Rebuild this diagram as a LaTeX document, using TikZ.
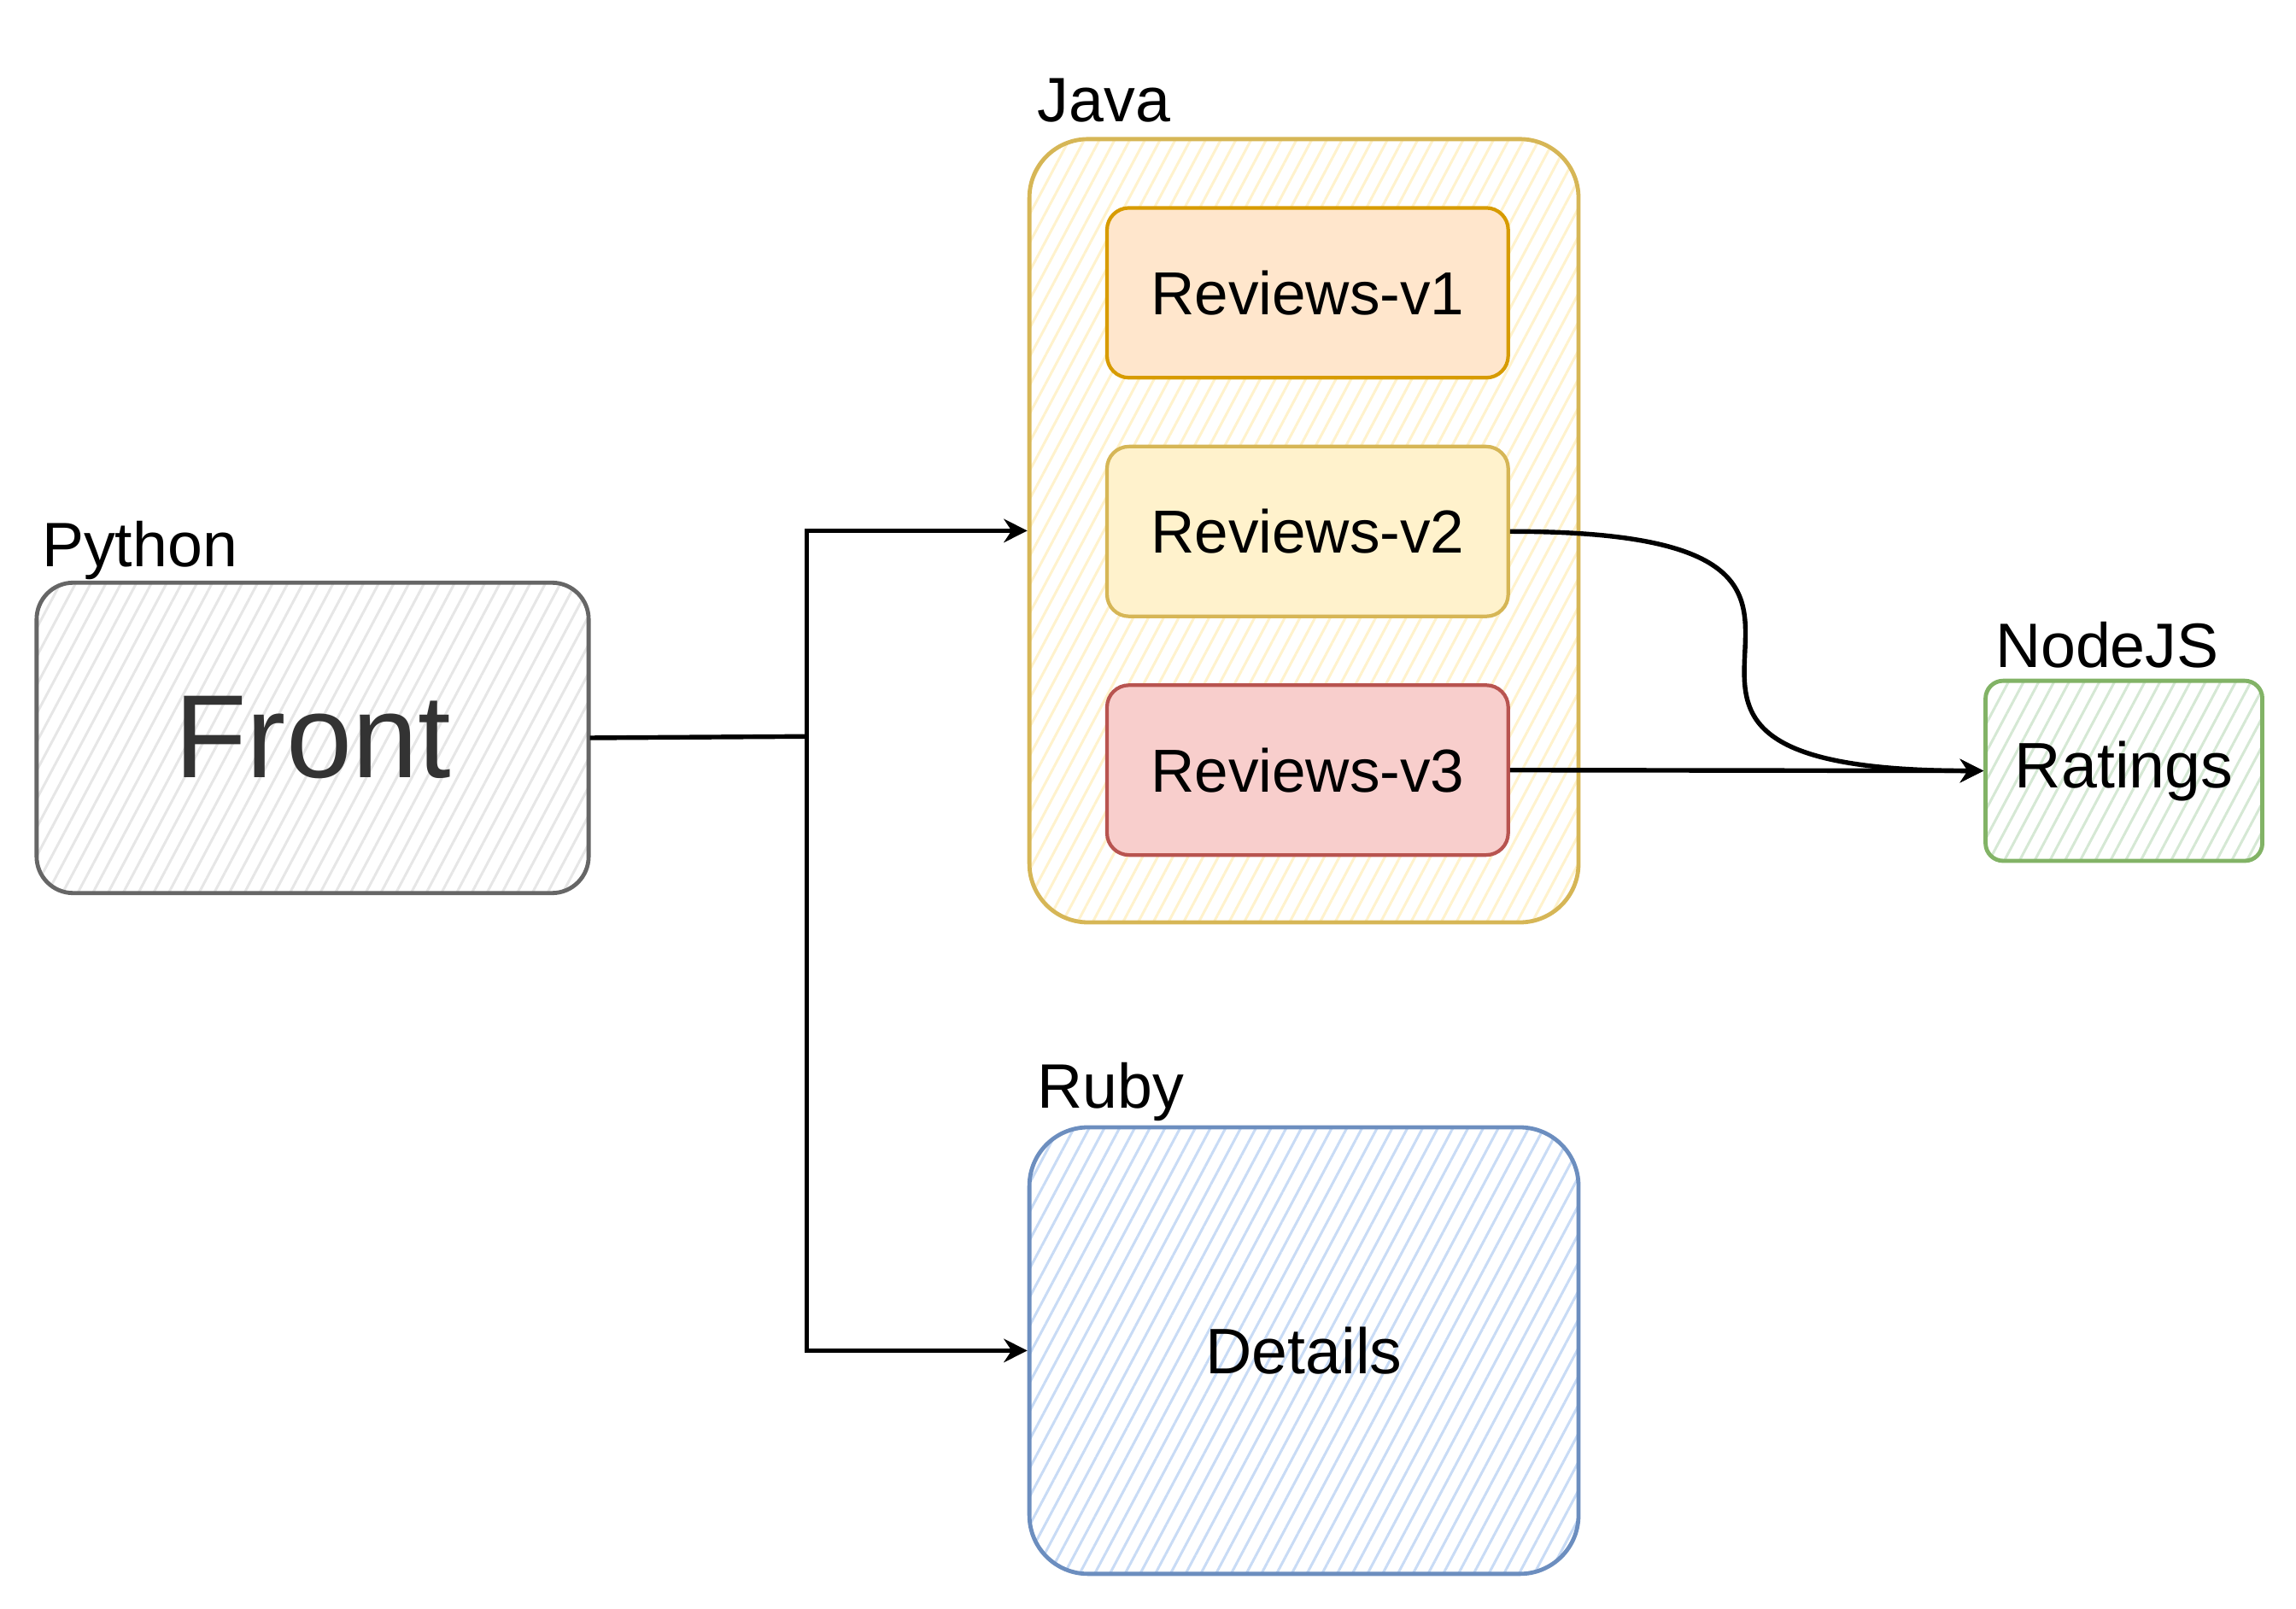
\documentclass[tikz,border=0pt]{standalone}
\usepackage{fontspec}
\setmainfont{Liberation Sans}
\usetikzlibrary{arrows.meta,patterns.meta}

\definecolor{pydraw}{HTML}{666666}
\definecolor{pyhatch}{HTML}{E6E6E6}
\definecolor{pytext}{HTML}{333333}
\definecolor{javadraw}{HTML}{D6B656}
\definecolor{javahatch}{HTML}{FFF2CC}
\definecolor{vonefill}{HTML}{FFE6CC}
\definecolor{vonedraw}{HTML}{D79B00}
\definecolor{vtwofill}{HTML}{FFF2CC}
\definecolor{vtwodraw}{HTML}{D6B656}
\definecolor{vthreefill}{HTML}{F8CECC}
\definecolor{vthreedraw}{HTML}{B85450}
\definecolor{nodedraw}{HTML}{82B366}
\definecolor{nodehatch}{HTML}{D5E8D4}
\definecolor{rubydraw}{HTML}{6C8EBF}
\definecolor{rubyhatch}{HTML}{C8DBF5}

\tikzset{
  hatchbox/.style={draw, line width=0.8pt, inner sep=0pt,
    pattern={Lines[angle=62,distance=2.6pt,line width=0.5pt]},
    font=\fontsize{12.5}{15}\selectfont},
  svcbox/.style={draw, line width=0.7pt, rounded corners=1.5mm,
    minimum width=27.4mm, minimum height=11.6mm, inner sep=0pt,
    font=\fontsize{11.8}{14}\selectfont},
  lbl/.style={inner sep=0pt, anchor=base west, font=\fontsize{12.2}{15}\selectfont},
  conn/.style={line width=0.9pt},
  arr/.style={conn, -{Stealth[length=1.6mm,width=1.6mm]}}
}

\begin{document}
\begin{tikzpicture}[x=0.1mm, y=-0.1mm]
  \useasboundingbox (0,0) rectangle (1568,1099);

  % groups
  \node[hatchbox, draw=pydraw, pattern color=pyhatch, text=pytext,
    minimum width=37.7mm, minimum height=21.2mm, rounded corners=2.5mm,
    font=\fontsize{23}{28}\selectfont] (front) at (213.5,504) {Front};
  \node[hatchbox, draw=javadraw, pattern color=javahatch,
    minimum width=37.5mm, minimum height=53.5mm, rounded corners=4mm] (java) at (890.5,362.5) {};
  \node[hatchbox, draw=nodedraw, pattern color=nodehatch,
    minimum width=18.9mm, minimum height=12.3mm, rounded corners=1.2mm] (ratings) at (1450.5,526.5) {Ratings};
  \node[hatchbox, draw=rubydraw, pattern color=rubyhatch,
    minimum width=37.5mm, minimum height=30.5mm, rounded corners=4mm] (details) at (890.5,922.5) {Details};

  % reviews versions
  \node[svcbox, fill=vonefill, draw=vonedraw] (v1) at (893,200) {Reviews-v1};
  \node[svcbox, fill=vtwofill, draw=vtwodraw] (v2) at (893,363) {Reviews-v2};
  \node[svcbox, fill=vthreefill, draw=vthreedraw] (v3) at (893,526) {Reviews-v3};

  % language labels
  \node[lbl] (python) at (28,387) {Python};
  \node[lbl] (javalbl) at (708,83) {Java};
  \node[lbl] (rubylbl) at (708,757) {Ruby};
  \node[lbl] (nodejs) at (1362,456) {NodeJS};

  % connectors
  \coordinate (split) at (551,503);
  \draw[conn] (front.east) -- (split);
  \draw[arr] (split) |- (java.west);
  \draw[arr] (split) |- (details.west);
  \draw[arr] (v2.east) .. controls +(326,0) and +(-326,0) .. (ratings.west);
  \draw[arr] (v3.east) -- (ratings.west);
\end{tikzpicture}
\end{document}
